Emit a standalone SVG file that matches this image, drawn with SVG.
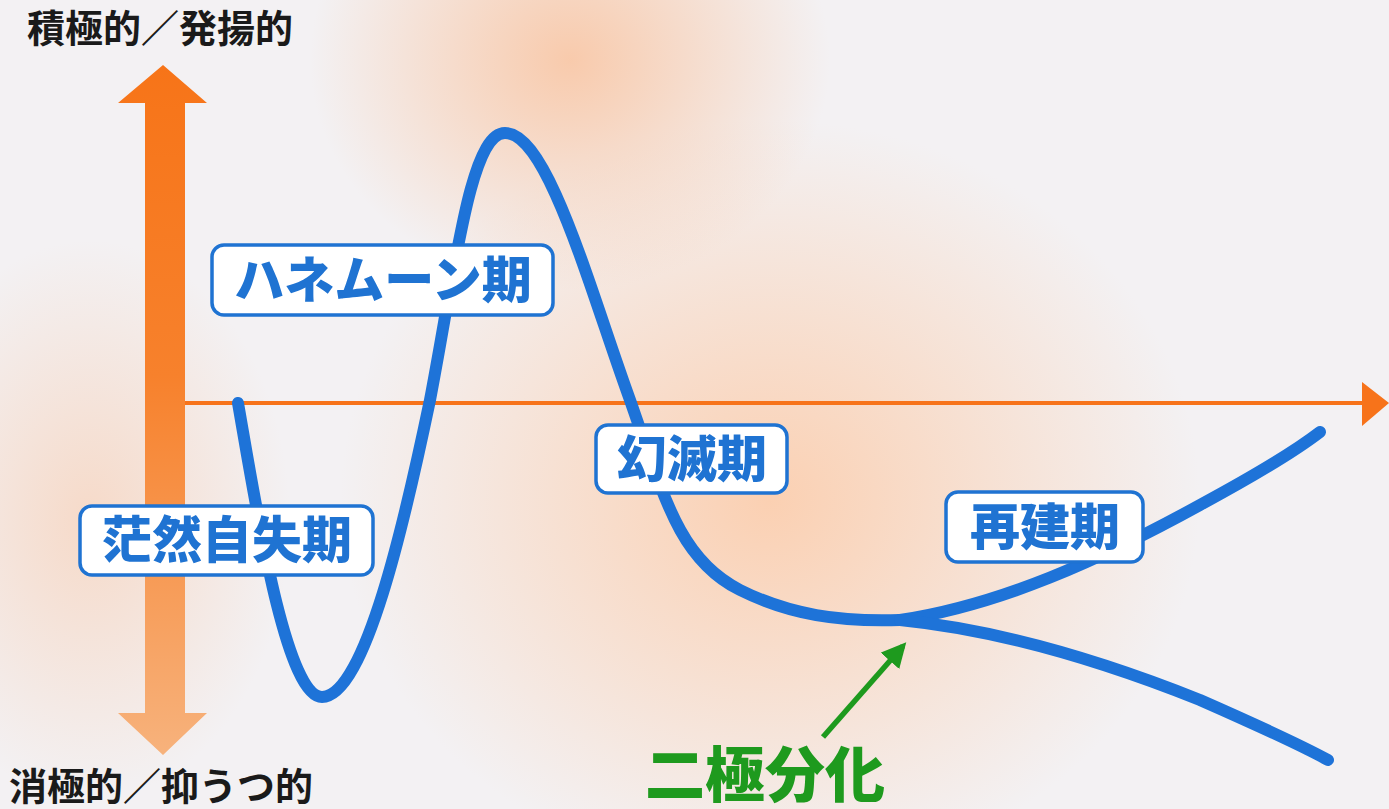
<svg xmlns="http://www.w3.org/2000/svg" width="1389" height="809" viewBox="0 0 1389 809">
<defs>
<linearGradient id="vgrad" x1="0" y1="0" x2="0" y2="1">
<stop offset="0" stop-color="#F77418"/>
<stop offset="0.45" stop-color="#F7812C"/>
<stop offset="1" stop-color="#F7B27C"/>
</linearGradient>
<radialGradient id="glow1" cx="0.5" cy="0.5" r="0.5">
<stop offset="0" stop-color="#FBD0B2" stop-opacity="1"/>
<stop offset="1" stop-color="#FBD0B2" stop-opacity="0"/>
</radialGradient>
<radialGradient id="glow2" cx="0.5" cy="0.5" r="0.5">
<stop offset="0" stop-color="#F9C6A4" stop-opacity="0.9"/>
<stop offset="1" stop-color="#F9C6A4" stop-opacity="0"/>
</radialGradient>
<marker id="greenHead" viewBox="0 0 10 10" refX="8" refY="5" markerWidth="4.5" markerHeight="4.5" orient="auto" markerUnits="strokeWidth">
<path d="M0,0 L10,5 L0,10 z" fill="#1E9A1E"/>
</marker>
<style>
.lbl rect{fill:#FFFFFF;stroke:#1F73D2;stroke-width:3.5}
.lbl text{fill:#1F73D2;font-family:"Noto Sans CJK JP","Noto Sans CJK SC",sans-serif;font-weight:900;font-size:50px;text-anchor:middle}
.axis text{fill:#1a1a1a;font-family:"Noto Sans CJK JP","Noto Sans CJK SC",sans-serif;font-weight:700;font-size:38px}
.curve{fill:none;stroke:#1E73D8;stroke-width:12;stroke-linecap:round;stroke-linejoin:round}
</style>
</defs>
<rect x="0" y="0" width="1389" height="809" fill="#F3F1F3"/>
<ellipse cx="770" cy="500" rx="430" ry="380" fill="url(#glow1)"/>
<ellipse cx="570" cy="60" rx="260" ry="230" fill="url(#glow2)"/>
<ellipse cx="90" cy="520" rx="200" ry="280" fill="url(#glow2)" opacity="0.6"/>

<g id="y-axis" class="axis">
<path d="M145,103 L118,103 L163,65 L207,103 L185,103 L185,713 L207,713 L163,755 L118,713 L145,713 Z" fill="url(#vgrad)"/>
<text x="27" y="42">積極的／発揚的</text>
<text x="9" y="800">消極的／抑うつ的</text>
</g>

<g id="x-axis">
<line x1="185" y1="403" x2="1366" y2="403" stroke="#F7731A" stroke-width="4"/>
<path d="M1362,382 L1389,403 L1362,426 Z" fill="#F7731A"/>
</g>

<g id="connectors">
<path class="curve" d="M238,403 C255,500 285,697 322,697 C365,697 405,520 430,400 C455,270 470,133 505,133 C548,133 590,290 630,400 C665,500 680,560 740,590 C790,615 840,622 900,620"/>
<path class="curve" d="M900,620 C1000,605 1100,560 1200,505 C1250,478 1290,455 1320,432"/>
<path class="curve" d="M900,620 C1000,630 1100,660 1200,700 C1250,722 1295,742 1328,760"/>
<line x1="823" y1="737" x2="903" y2="646" stroke="#1E9A1E" stroke-width="5.5" marker-end="url(#greenHead)"/>
</g>

<g id="label-honeymoon" class="lbl">
<rect x="212" y="245" width="341" height="70" rx="12"/>
<text x="383" y="298">ハネムーン期</text>
</g>
<g id="label-bozen" class="lbl">
<rect x="80" y="506" width="293" height="69" rx="12"/>
<text x="227" y="558">茫然自失期</text>
</g>
<g id="label-genmetsu" class="lbl">
<rect x="596" y="425" width="191" height="68" rx="12"/>
<text x="692" y="477">幻滅期</text>
</g>
<g id="label-saiken" class="lbl">
<rect x="946" y="492" width="197" height="70" rx="12"/>
<text x="1045" y="545">再建期</text>
</g>
<g id="label-nikyoku">
<text x="765" y="797" fill="#1E9A1E" font-family="Noto Sans CJK JP, Noto Sans CJK SC, sans-serif" font-weight="900" font-size="60" text-anchor="middle">二極分化</text>
</g>
</svg>
